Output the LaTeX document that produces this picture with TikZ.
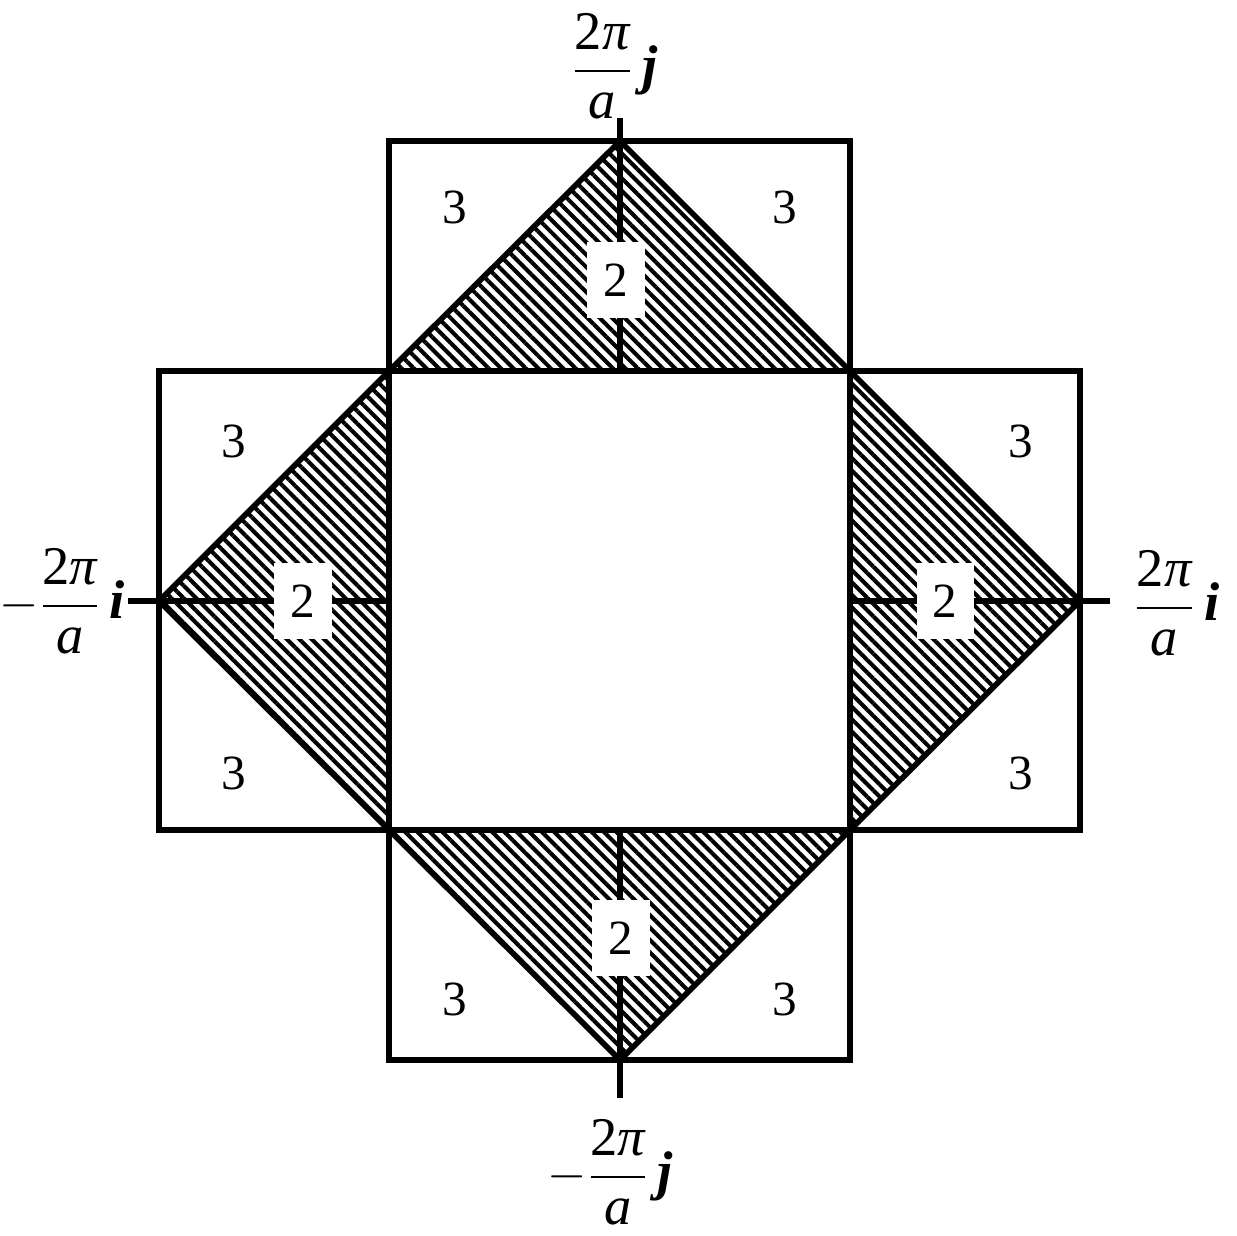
\documentclass[tikz,border=0pt]{standalone}
\usepackage{fontspec}
\setmainfont{Liberation Serif}
\usetikzlibrary{patterns.meta}
\begin{document}
\begin{tikzpicture}[x=0.01cm,y=-0.01cm,line width=1.6pt,line join=miter,
  hatch/.style={pattern={Lines[angle=-45,distance=2.5pt,line width=1.15pt]}},
  num/.style={font=\fontsize{14}{16}\selectfont,inner sep=0pt},
  twolab/.style={num,fill=white,minimum width=0.57cm,minimum height=0.76cm},
  axlab/.style={font=\fontsize{15.5}{18}\selectfont,inner sep=0pt}]
\useasboundingbox (0,0) rectangle (1237,1235);
% corners
\coordinate (A) at (389,371); \coordinate (B) at (850,371);
\coordinate (C) at (850,830); \coordinate (D) at (389,830);
\coordinate (T) at (620,141); \coordinate (L) at (159,601);
\coordinate (R) at (1080,601); \coordinate (Bo) at (620,1060);
% hatched triangles
\path[hatch] (A) -- (T) -- (B) -- cycle;
\path[hatch] (A) -- (L) -- (D) -- cycle;
\path[hatch] (B) -- (R) -- (C) -- cycle;
\path[hatch] (D) -- (Bo) -- (C) -- cycle;
% squares
\draw (A) rectangle (C);
\draw (389,141) rectangle (B);
\draw (159,371) rectangle (D);
\draw (B) rectangle (1080,830);
\draw (D) rectangle (850,1060);
% diagonals
\draw (A) -- (T) -- (B) -- (R) -- (C) -- (Bo) -- (D) -- (L) -- cycle;
% axes
\coordinate (yt) at (620,118); \coordinate (yb) at (620,1098);
\coordinate (xl) at (128,601); \coordinate (xr) at (1110,601);
\draw (yt) -- (620,371);
\draw (620,830) -- (yb);
\draw (xl) -- (389,601);
\draw (850,601) -- (xr);
% labels 2
\node[twolab] (t2) at (616,280) {2};
\node[twolab] (l2) at (303,601) {2};
\node[twolab] (r2) at (945,601) {2};
\node[twolab] (b2) at (621,938) {2};
% labels 3
\node[num] (n1) at (455,207) {3};
\node[num] (n2) at (785,207) {3};
\node[num] (n3) at (234,441) {3};
\node[num] (n4) at (1021,441) {3};
\node[num] (n5) at (234,773) {3};
\node[num] (n6) at (1021,773) {3};
\node[num] (n7) at (455,999) {3};
\node[num] (n8) at (785,999) {3};
% axis labels
\node[axlab] (lt) at (614,66) {$\displaystyle\frac{\mbox{2\itshape π}}{\mbox{\itshape a}}\,\mbox{\bfseries\itshape j}$};
\node[axlab] (ll) at (62,601) {$\displaystyle -\frac{\mbox{2\itshape π}}{\mbox{\itshape a}}\,\mbox{\bfseries\itshape i}$};
\node[axlab] (lr) at (1176,603) {$\displaystyle\frac{\mbox{2\itshape π}}{\mbox{\itshape a}}\,\mbox{\bfseries\itshape i}$};
\node[axlab] (lb) at (610,1172) {$\displaystyle -\frac{\mbox{2\itshape π}}{\mbox{\itshape a}}\,\mbox{\bfseries\itshape j}$};
\end{tikzpicture}
\end{document}
